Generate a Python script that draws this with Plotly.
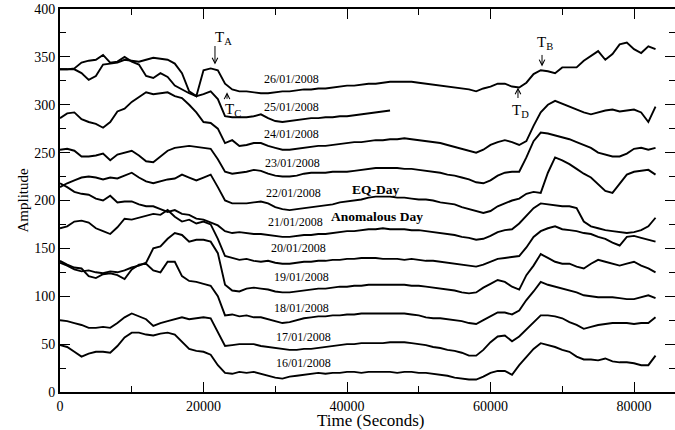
import plotly.graph_objects as go

# Sampling interval of the amplitude records (seconds)
STEP = 1000
N = 84
times = [k * STEP for k in range(N)]

amp_1601 = [49, 47, 42, 37, 40, 42, 42, 41, 48, 57,
            62, 62, 60, 59, 61, 62, 60, 52, 45, 43,
            42, 39, 28, 20, 19, 21, 20, 21, 19, 17,
            15, 14, 16, 17, 18, 19, 20, 19, 20, 20,
            21, 21, 20, 21, 21, 21, 21, 20, 21, 21,
            20, 20, 19, 18, 17, 15, 14, 13, 13, 16,
            20, 22, 22, 18, 28, 37, 45, 51, 49, 47,
            44, 42, 37, 34, 34, 33, 35, 32, 31, 31,
            30, 28, 28, 38]
amp_1701 = [75, 74, 72, 70, 67, 67, 68, 67, 72, 78,
            82, 79, 76, 69, 72, 74, 76, 78, 76, 77,
            78, 77, 62, 48, 49, 50, 50, 50, 48, 47,
            46, 45, 44, 44, 45, 45, 46, 47, 48, 49,
            50, 50, 51, 51, 51, 51, 52, 52, 52, 51,
            50, 49, 47, 46, 44, 43, 41, 38, 38, 44,
            52, 58, 59, 53, 58, 65, 73, 80, 80, 79,
            77, 73, 70, 66, 68, 70, 71, 72, 72, 72,
            71, 72, 72, 78]
amp_1801 = [137, 133, 130, 129, 121, 119, 123, 124, 122, 118,
            128, 133, 134, 127, 125, 136, 136, 121, 116, 115,
            113, 111, 100, 80, 81, 79, 80, 78, 78, 76,
            74, 72, 73, 75, 77, 78, 79, 79, 80, 80,
            81, 81, 82, 82, 82, 82, 82, 82, 82, 81,
            80, 78, 77, 77, 76, 75, 74, 72, 71, 75,
            79, 83, 83, 81, 85, 96, 105, 115, 112, 110,
            108, 106, 104, 101, 100, 99, 99, 99, 98, 97,
            97, 99, 101, 98]
amp_1901 = [135, 132, 128, 126, 127, 125, 124, 126, 125, 127,
            130, 132, 135, 150, 152, 160, 166, 164, 157, 159,
            159, 157, 145, 112, 106, 105, 108, 109, 108, 107,
            105, 104, 104, 105, 106, 107, 108, 108, 109, 110,
            110, 111, 111, 112, 112, 112, 112, 112, 112, 111,
            111, 110, 109, 108, 107, 106, 104, 103, 104, 109,
            113, 117, 115, 110, 107, 122, 132, 144, 140, 136,
            134, 134, 131, 129, 134, 138, 136, 134, 132, 134,
            136, 132, 129, 125]
amp_2001 = [171, 173, 178, 179, 177, 171, 168, 165, 172, 181,
            180, 182, 184, 186, 185, 190, 183, 178, 180, 176,
            178, 175, 160, 142, 140, 138, 139, 137, 136, 137,
            135, 134, 134, 135, 136, 136, 137, 137, 138, 138,
            139, 139, 140, 140, 140, 139, 139, 139, 138, 139,
            138, 137, 137, 136, 135, 134, 133, 132, 131, 133,
            136, 139, 140, 141, 142, 151, 162, 168, 171, 173,
            170, 169, 168, 166, 165, 162, 160, 156, 153, 162,
            163, 161, 159, 157]
amp_2101 = [218, 214, 209, 207, 206, 202, 200, 205, 198, 199,
            199, 196, 194, 194, 191, 188, 190, 186, 185, 181,
            180, 177, 174, 168, 166, 167, 166, 165, 165, 164,
            163, 162, 162, 163, 164, 164, 165, 165, 166, 167,
            168, 168, 169, 170, 170, 171, 170, 170, 170, 169,
            169, 168, 167, 166, 165, 164, 162, 161, 159, 160,
            163, 167, 169, 170, 176, 184, 192, 197, 196, 195,
            194, 194, 192, 178, 173, 171, 169, 168, 167, 166,
            167, 169, 173, 182]
amp_2201 = [214, 218, 221, 224, 225, 224, 222, 224, 223, 226,
            229, 224, 220, 218, 220, 222, 223, 227, 224, 221,
            224, 227, 214, 200, 197, 197, 197, 198, 199, 197,
            193, 191, 190, 191, 192, 193, 194, 195, 196, 198,
            199, 200, 201, 203, 204, 204, 204, 203, 203, 202,
            201, 201, 200, 198, 197, 196, 193, 191, 189, 187,
            189, 194, 197, 200, 202, 207, 209, 208, 229, 245,
            242, 238, 233, 228, 224, 217, 210, 208, 218, 227,
            230, 231, 232, 227]
amp_2301 = [253, 254, 252, 246, 246, 247, 249, 242, 248, 250,
            252, 247, 241, 240, 246, 252, 255, 256, 257, 256,
            255, 254, 243, 230, 228, 229, 230, 232, 231, 228,
            226, 225, 225, 226, 228, 229, 229, 229, 230, 230,
            230, 231, 232, 233, 234, 234, 234, 234, 233, 233,
            232, 231, 230, 229, 227, 226, 224, 222, 219, 218,
            221, 226, 229, 230, 230, 245, 262, 271, 270, 268,
            266, 264, 261, 258, 255, 250, 248, 246, 246, 249,
            254, 255, 253, 255]
amp_2401 = [286, 291, 292, 285, 282, 280, 276, 282, 293, 296,
            303, 308, 313, 311, 312, 313, 309, 307, 300, 292,
            282, 281, 275, 260, 263, 257, 258, 260, 260, 257,
            255, 253, 253, 254, 255, 256, 257, 257, 258, 259,
            260, 261, 261, 262, 263, 263, 264, 264, 265, 264,
            263, 262, 261, 260, 258, 256, 254, 252, 250, 253,
            258, 261, 263, 261, 258, 262, 278, 292, 300, 304,
            301, 298, 295, 292, 290, 292, 294, 295, 293, 294,
            295, 292, 282, 298]
# 25/01 record stops near 46000 s
amp_2501 = [337, 337, 338, 344, 346, 347, 352, 344, 345, 350,
            345, 342, 330, 328, 333, 329, 320, 316, 312, 309,
            311, 314, 306, 288, 287, 287, 287, 288, 290, 286,
            283, 282, 283, 284, 285, 286, 286, 287, 287, 288,
            288, 289, 290, 291, 292, 293, 294]
amp_2601 = [337, 337, 337, 333, 326, 330, 342, 343, 344, 347,
            346, 345, 347, 349, 348, 347, 343, 333, 314, 309,
            336, 338, 336, 322, 316, 314, 314, 313, 312, 312,
            313, 314, 314, 315, 316, 316, 317, 317, 318, 319,
            320, 320, 321, 322, 322, 323, 324, 324, 324, 324,
            323, 322, 321, 320, 319, 318, 317, 316, 314, 317,
            319, 322, 322, 319, 318, 323, 332, 336, 335, 333,
            339, 339, 339, 346, 351, 356, 347, 353, 363, 365,
            358, 354, 361, 358]

series = [amp_1601, amp_1701, amp_1801, amp_1901, amp_2001, amp_2101,
          amp_2201, amp_2301, amp_2401, amp_2501, amp_2601]
dates = ["16/01/2008", "17/01/2008", "18/01/2008", "19/01/2008",
         "20/01/2008", "21/01/2008", "22/01/2008", "23/01/2008",
         "24/01/2008", "25/01/2008", "26/01/2008"]
# where each date label sits (time, amplitude)
label_t = [34000, 34000, 33700, 33600, 33200, 32800, 32500, 32400,
           32300, 32300, 32300]
label_v = [30, 57, 88, 120, 150.5, 178, 208, 239.5, 269, 298, 326.5]

# marker times T_A .. T_D and the amplitude each arrow points at
marker_names = ["A", "B", "C", "D"]
marker_t = [21600, 67180, 23280, 63830]
marker_v = [342, 340, 313, 318]

SERIF = "Liberation Serif"

fig = go.Figure()
for vals, name in zip(series, dates):
    fig.add_trace(go.Scatter(
        x=times[:len(vals)], y=vals, mode="lines", name=name,
        line=dict(color="black", width=1.9), hoverinfo="skip",
        showlegend=False))

# helper trace that carries the right-hand tick axis
fig.add_trace(go.Scatter(x=[0], y=[0], yaxis="y2", mode="lines",
                         line=dict(width=0), hoverinfo="skip",
                         showlegend=False))

annotations = []
for name, t, v in zip(dates, label_t, label_v):
    annotations.append(dict(x=t, y=v, xref="x", yref="y", text=name,
                            showarrow=False,
                            font=dict(family=SERIF, size=12, color="black")))

annotations.append(dict(x=44040, y=211, xref="x", yref="y",
                        text="<b>EQ-Day</b>", showarrow=False,
                        font=dict(family=SERIF, size=13.5, color="black")))
annotations.append(dict(x=44250, y=183, xref="x", yref="y",
                        text="<b>Anomalous Day</b>", showarrow=False,
                        font=dict(family=SERIF, size=13.5, color="black")))

# arrows: tail offsets in pixels (down-pointing arrows have negative ay)
arrow_ay = [-20, -13, 8, 12]
for name, t, v, ay in zip(marker_names, marker_t, marker_v, arrow_ay):
    annotations.append(dict(x=t, y=v, xref="x", yref="y", text="",
                            showarrow=True, ax=0, ay=ay, arrowhead=5,
                            arrowsize=1.1, arrowwidth=1, arrowcolor="black"))

# marker captions
caption_t = [21320, 66200, 22720, 62720]
caption_v = [370, 364, 295, 293]
for name, t, v in zip(marker_names, caption_t, caption_v):
    annotations.append(dict(x=t, y=v, xref="x", yref="y",
                            text="T<sub>" + name + "</sub>",
                            xanchor="left", yanchor="middle", showarrow=False,
                            font=dict(family=SERIF, size=15, color="black")))

# axis titles
annotations.append(dict(x=(371 - 60) / 615, y=-0.075, xref="paper",
                        yref="paper", text="Time (Seconds)", showarrow=False,
                        xanchor="center", yanchor="middle",
                        font=dict(family=SERIF, size=17, color="black")))
annotations.append(dict(x=(22 - 60) / 615, y=0.5, xref="paper",
                        yref="paper", text="Amplitude", showarrow=False,
                        textangle=-90, xanchor="center", yanchor="middle",
                        font=dict(family=SERIF, size=15, color="black")))

tick_font = dict(family=SERIF, size=14, color="black")

fig.update_layout(
    width=675, height=430,
    margin=dict(l=60, r=0, t=9, b=38),
    paper_bgcolor="white", plot_bgcolor="white",
    annotations=annotations,
    xaxis=dict(range=[0, 85714], tickvals=[0, 20000, 40000, 60000, 80000],
               tickformat="d",
               ticks="inside", ticklen=10, tickwidth=1.2, tickcolor="black",
               minor=dict(dtick=10000, tick0=0, ticks="inside", ticklen=6,
                          tickwidth=1.2, tickcolor="black"),
               showline=True, linewidth=2, linecolor="black", mirror="ticks",
               showgrid=False, zeroline=False, tickfont=tick_font),
    yaxis=dict(range=[0, 400], dtick=50, tick0=0,
               ticks="inside", ticklen=10, tickwidth=1.2, tickcolor="black",
               minor=dict(dtick=25, tick0=0, ticks="inside", ticklen=6,
                          tickwidth=1.2, tickcolor="black"),
               showline=True, linewidth=2, linecolor="black",
               showgrid=False, zeroline=False, tickfont=tick_font),
    yaxis2=dict(range=[0, 400], dtick=50, tick0=0, overlaying="y",
                side="right", ticks="inside", ticklen=10, tickwidth=1.2,
                tickcolor="black", showticklabels=False, showline=False,
                minor=dict(dtick=25, tick0=0, ticks="inside", ticklen=6,
                           tickwidth=1.2, tickcolor="black"),
                showgrid=False, zeroline=False),
)

fig.write_html("out.html")
